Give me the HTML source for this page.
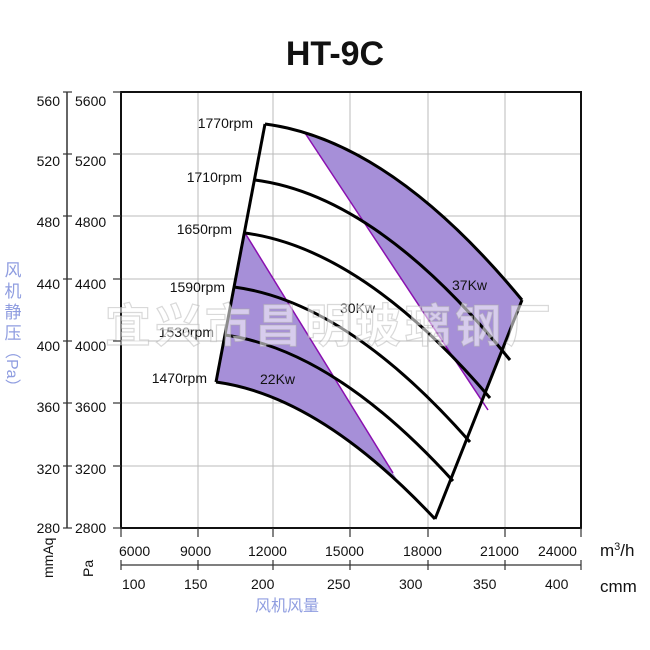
<!DOCTYPE html>
<html><head><meta charset="utf-8"><style>
body{margin:0;background:#fff}
svg{display:block}
text{font-family:"Liberation Sans","Noto Sans CJK SC",sans-serif}
</style></head><body>
<svg width="650" height="650" viewBox="0 0 650 650" xmlns="http://www.w3.org/2000/svg">
<defs>
<clipPath id="env"><path d="M265,124 Q390,140 522,300 L435,519 Q320,396 216,382 Z"/></clipPath>
</defs>
<rect width="650" height="650" fill="#fff"/>
<text x="335" y="65" font-size="34" font-weight="bold" text-anchor="middle" fill="#111">HT-9C</text>
<g stroke="#bbb" stroke-width="1">
<line x1="198" y1="92" x2="198" y2="528"/><line x1="273" y1="92" x2="273" y2="528"/>
<line x1="350" y1="92" x2="350" y2="528"/><line x1="428" y1="92" x2="428" y2="528"/>
<line x1="505" y1="92" x2="505" y2="528"/>
<line x1="121" y1="154" x2="581" y2="154"/><line x1="121" y1="216" x2="581" y2="216"/>
<line x1="121" y1="279" x2="581" y2="279"/><line x1="121" y1="341" x2="581" y2="341"/>
<line x1="121" y1="403" x2="581" y2="403"/><line x1="121" y1="466" x2="581" y2="466"/>
</g>
<rect x="121" y="92" width="460" height="436" fill="none" stroke="#111" stroke-width="2"/>
<g clip-path="url(#env)" fill="#a68fd8">
<polygon points="279,94 514,449 650,449 650,94"/>
<polygon points="226,202 412,504 100,504 100,202"/>
</g>
<g stroke="#8a10b0" stroke-width="1.5">
<line x1="305" y1="133" x2="488" y2="410"/>
<line x1="245" y1="233" x2="393" y2="473"/>
</g>
<g fill="none" stroke="#000" stroke-width="3">
<path d="M265,124 Q390,140 522,300"/>
<path d="M255,180 Q378,196 510,360"/>
<path d="M245,233 Q363,249 490,398"/>
<path d="M234,287 Q347,302 470,442"/>
<path d="M225,335 Q334,350 453,481"/>
<path d="M216,382 Q320,396 435,519"/>
<path d="M265,124 L216,382"/>
<path d="M522,300 L435,519"/>
</g>
<g font-size="14" fill="#111" text-anchor="end">
<text x="253" y="128">1770rpm</text><text x="242" y="182">1710rpm</text>
<text x="232" y="234">1650rpm</text><text x="225" y="292">1590rpm</text>
<text x="214" y="337">1530rpm</text><text x="207" y="383">1470rpm</text>
</g>
<g font-size="14" fill="#111">
<text x="260" y="384">22Kw</text><text x="340" y="313">30Kw</text><text x="452" y="290">37Kw</text>
</g>
<text x="330" y="342" font-size="46" font-weight="bold" text-anchor="middle" fill="#fff" fill-opacity="0.55" stroke="#aaa" stroke-opacity="0.45" stroke-width="1.2" letter-spacing="4">宜兴市昌明玻璃钢厂</text>
<line x1="67" y1="92" x2="67" y2="528" stroke="#333" stroke-width="1.5"/>
<g stroke="#333" stroke-width="1.2">
<line x1="63" y1="92" x2="72" y2="92"/><line x1="63" y1="154" x2="72" y2="154"/><line x1="63" y1="216" x2="72" y2="216"/>
<line x1="63" y1="279" x2="72" y2="279"/><line x1="63" y1="341" x2="72" y2="341"/><line x1="63" y1="403" x2="72" y2="403"/>
<line x1="63" y1="466" x2="72" y2="466"/><line x1="63" y1="528" x2="72" y2="528"/>
<line x1="113" y1="92" x2="121" y2="92"/><line x1="113" y1="154" x2="121" y2="154"/><line x1="113" y1="216" x2="121" y2="216"/>
<line x1="113" y1="279" x2="121" y2="279"/><line x1="113" y1="341" x2="121" y2="341"/><line x1="113" y1="403" x2="121" y2="403"/>
<line x1="113" y1="466" x2="121" y2="466"/><line x1="113" y1="528" x2="121" y2="528"/>
</g>
<g font-size="14" fill="#111" text-anchor="end">
<text x="60" y="106">560</text><text x="60" y="166">520</text><text x="60" y="227">480</text>
<text x="60" y="289">440</text><text x="60" y="351">400</text><text x="60" y="412">360</text>
<text x="60" y="474">320</text><text x="60" y="533">280</text>
</g>
<g font-size="14" fill="#111">
<text x="75" y="106">5600</text><text x="75" y="166">5200</text><text x="75" y="227">4800</text>
<text x="75" y="289">4400</text><text x="75" y="351">4000</text><text x="75" y="412">3600</text>
<text x="75" y="474">3200</text><text x="75" y="533">2800</text>
</g>
<g font-size="17" fill="#8f9de0" text-anchor="middle">
<text x="13" y="276">风</text><text x="13" y="297">机</text><text x="13" y="318">静</text><text x="13" y="339">压</text>
</g>
<text transform="translate(7,343) rotate(90)" font-size="16" fill="#8f9de0">（Pa）</text>
<text transform="translate(53,578) rotate(-90)" font-size="14" fill="#111">mmAq</text>
<text transform="translate(93,577) rotate(-90)" font-size="14" fill="#111">Pa</text>
<g font-size="14" fill="#111">
<text x="119" y="556">6000</text><text x="180" y="556">9000</text><text x="248" y="556">12000</text>
<text x="325" y="556">15000</text><text x="403" y="556">18000</text><text x="480" y="556">21000</text>
<text x="538" y="556">24000</text>
<text x="122" y="589">100</text><text x="184" y="589">150</text><text x="251" y="589">200</text>
<text x="327" y="589">250</text><text x="399" y="589">300</text><text x="473" y="589">350</text><text x="545" y="589">400</text>
</g>
<line x1="121" y1="565" x2="581" y2="565" stroke="#333" stroke-width="1.2"/>
<g stroke="#333" stroke-width="1.2">
<line x1="121" y1="560" x2="121" y2="570"/><line x1="198" y1="560" x2="198" y2="570"/><line x1="273" y1="560" x2="273" y2="570"/>
<line x1="350" y1="560" x2="350" y2="570"/><line x1="428" y1="560" x2="428" y2="570"/><line x1="505" y1="560" x2="505" y2="570"/>
<line x1="581" y1="560" x2="581" y2="570"/>
<line x1="121" y1="528" x2="121" y2="537"/><line x1="198" y1="528" x2="198" y2="537"/><line x1="273" y1="528" x2="273" y2="537"/>
<line x1="350" y1="528" x2="350" y2="537"/><line x1="428" y1="528" x2="428" y2="537"/><line x1="505" y1="528" x2="505" y2="537"/>
<line x1="581" y1="528" x2="581" y2="537"/>
</g>
<text x="600" y="556" font-size="17" fill="#111">m<tspan font-size="11" dy="-6">3</tspan><tspan dy="6">/h</tspan></text>
<text x="600" y="592" font-size="17" fill="#111">cmm</text>
<text x="255" y="611" font-size="16" fill="#8f9de0">风机风量</text>
</svg>
</body></html>
